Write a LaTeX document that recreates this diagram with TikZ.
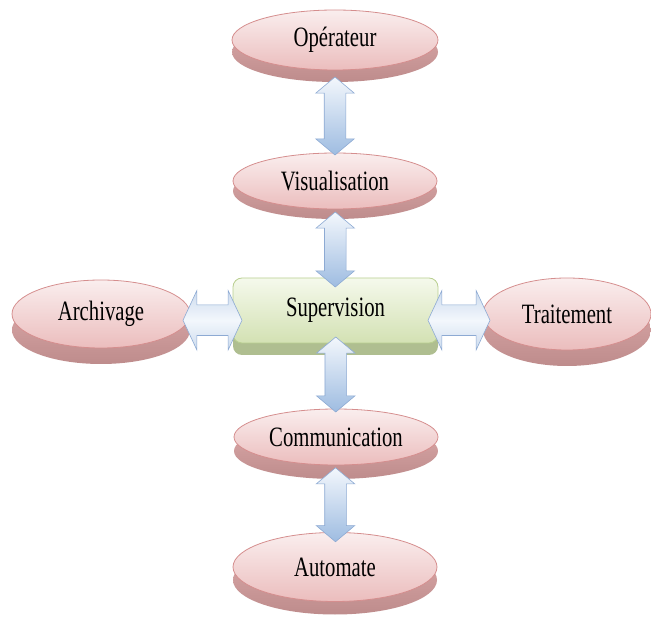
\documentclass[tikz,border=0pt]{standalone}
\usepackage{fontspec}
\setmainfont[FakeStretch=0.74]{Liberation Serif}
\usetikzlibrary{shapes.geometric,shapes.arrows,calc}

\definecolor{roseface}{HTML}{FAEEEE}
\definecolor{rosebottom}{HTML}{EBBDBD}
\definecolor{roseedge}{HTML}{D58E8E}
\definecolor{rosedepthA}{HTML}{DCAAAA}
\definecolor{rosedepthB}{HTML}{BE8C8C}
\definecolor{greenface}{HTML}{F5F9EC}
\definecolor{greenbottom}{HTML}{D3E1B3}
\definecolor{greenedge}{HTML}{B9CF90}
\definecolor{greendepth}{HTML}{AFBE90}
\definecolor{arrowedge}{HTML}{8DAAD3}
\definecolor{arrowlight}{HTML}{F3F7FC}
\definecolor{arrowdark}{HTML}{9EBCE1}
\definecolor{arrowmid}{HTML}{CCDBEE}

\tikzset{
  label text/.style={font=\fontsize{28}{30}\selectfont, text=black},
  disc/.style={ellipse, inner sep=0pt, draw=roseedge, line width=0.8pt,
    top color=roseface, bottom color=rosebottom, label text,
    preaction={draw=none, top color=rosedepthA, bottom color=rosedepthB,
      transform canvas={yshift=-#1}}},
  disc/.default=12pt,
  hub/.style={rectangle, rounded corners=9pt, inner sep=0pt, draw=greenedge,
    line width=0.8pt, top color=greenface, bottom color=greenbottom, label text,
    preaction={draw=none, fill=greendepth, transform canvas={yshift=-12pt}}},
  varrow/.style={double arrow, shape border rotate=90, inner sep=10.5pt,
    double arrow head extend=8.5pt,
    double arrow tip angle=100, draw=arrowedge, line width=0.6pt,
    top color=arrowlight, bottom color=arrowdark},
  harrow/.style={double arrow, inner sep=15pt,
    double arrow head extend=14.5pt,
    double arrow tip angle=130, draw=arrowedge, line width=0.6pt,
    top color=arrowmid, bottom color=arrowmid, middle color=arrowlight},
}

\begin{document}
\begin{tikzpicture}[x=1pt, y=-1pt]
  \useasboundingbox (0,0) rectangle (651,617);

  % outer modules (ellipses with an extruded lower rim)
  \node[disc=12pt, minimum width=206pt, minimum height=60pt] (op)  at (335,40)  {Opérateur};
  \node[disc=10pt, minimum width=204pt, minimum height=56pt] (vis) at (335,181) {Visualisation};
  \node[disc=16pt, minimum width=178pt, minimum height=68pt] (arc) at (101,314) {Archivage};
  \node[disc=16pt, minimum width=168pt, minimum height=72pt] (tra) at (567,314) {Traitement};
  \node[disc=14pt, minimum width=204pt, minimum height=56pt] (com) at (336,437) {Communication};
  \node[disc=13pt, minimum width=204pt, minimum height=69pt] (aut) at (335,567) {Automate};

  % central module
  \node[hub, minimum width=205pt, minimum height=65pt] (sup) at (335.5,310.5) {Supervision};

  % two-way exchanges between the modules
  \node[varrow, minimum height=78pt] (a1) at ($(op.south)!0.5!(vis.north)+(0,4.5)$) {};
  \node[varrow, minimum height=75pt] (a2) at ($(vis.south)!0.5!(sup.north)+(0,6)$) {};
  \node[varrow, minimum height=75pt] (a3) at ($(sup.south)!0.5!(com.north)+(0,-1.5)$) {};
  \node[varrow, minimum height=74pt] (a4) at ($(com.south)!0.5!(aut.north)+(0,6)$) {};
  \node[harrow, minimum height=59pt] (a5) at ($(arc.east)!0.5!(sup.west)+(1,8)$) {};
  \node[harrow, minimum height=62pt] (a6) at ($(sup.east)!0.5!(tra.west)+(-1.5,8)$) {};
\end{tikzpicture}
\end{document}
